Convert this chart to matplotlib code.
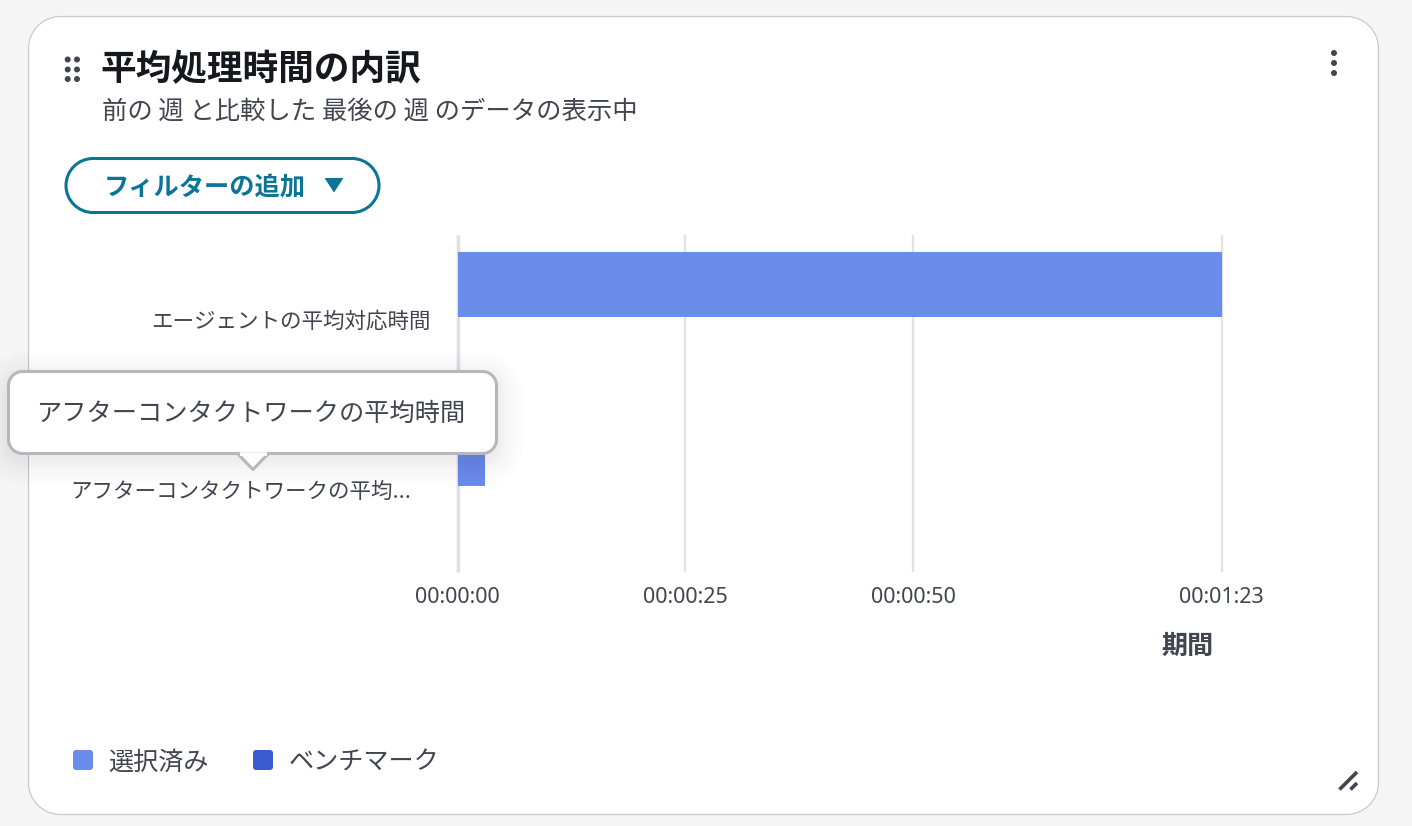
import matplotlib
matplotlib.use("Agg")
import matplotlib.pyplot as plt
from matplotlib.patches import PathPatch, Circle, Polygon
from matplotlib.path import Path
from matplotlib.transforms import ScaledTranslation

JP = ['Noto Sans CJK JP', 'DejaVu Sans']
plt.rcParams['font.family'] = JP

categories = ['エージェントの平均対応時間', 'アフターコンタクトワークの平均...']
selected_seconds = [83.9, 3.0]
tick_seconds = [0, 25, 50, 83.85]
tick_labels = ['00:00:00', '00:00:25', '00:00:50', '00:01:23']
x_title = '期間'
legend_names = ['選択済み', 'ベンチマーク']
legend_colors = ['#6A8CEB', '#3A5BD0']
title = '平均処理時間の内訳'
subtitle = '前の 週 と比較した 最後の 週 のデータの表示中'
button_text = 'フィルターの追加'
tooltip_text = 'アフターコンタクトワークの平均時間'

W, H = 1412, 826
INK = '#41454F'
TEAL = '#0B7595'
fig = plt.figure(figsize=(W / 100, H / 100), dpi=100, facecolor='#F5F5F5')

def pixel_axes(z):
    a = fig.add_axes([0, 0, 1, 1], zorder=z)
    a.set_xlim(0, W)
    a.set_ylim(H, 0)
    a.axis('off')
    a.patch.set_alpha(0)
    return a

def rbox(a, x0, y0, x1, y1, r, **kw):
    c = r * 0.4477  # control-point inset giving a circular corner
    verts = [(x0 + r, y0), (x1 - r, y0),
             (x1 - c, y0), (x1, y0 + c), (x1, y0 + r),
             (x1, y1 - r),
             (x1, y1 - c), (x1 - c, y1), (x1 - r, y1),
             (x0 + r, y1),
             (x0 + c, y1), (x0, y1 - c), (x0, y1 - r),
             (x0, y0 + r),
             (x0, y0 + c), (x0 + c, y0), (x0 + r, y0),
             (x0 + r, y0)]
    codes = [Path.MOVETO, Path.LINETO,
             Path.CURVE4, Path.CURVE4, Path.CURVE4,
             Path.LINETO,
             Path.CURVE4, Path.CURVE4, Path.CURVE4,
             Path.LINETO,
             Path.CURVE4, Path.CURVE4, Path.CURVE4,
             Path.LINETO,
             Path.CURVE4, Path.CURVE4, Path.CURVE4,
             Path.CLOSEPOLY]
    p = PathPatch(Path(verts, codes), **kw)
    a.add_patch(p)
    return p

bg = pixel_axes(0)
rbox(bg, 28.5, 16.5, 1378.5, 814.5, 32, fc='white', ec='#C9C9D1', lw=0.9)

# chart: each band has a slot for the selected bar above the slot for the benchmark
ax = fig.add_axes([457.5 / W, 1 - 572 / H, (1221.8 - 457.5) / W, (572 - 235) / H], zorder=1)
ax.patch.set_alpha(0)
ypos = [0.5, 1.5]
bar_shift = -0.206
ax.barh([y + bar_shift for y in ypos], selected_seconds, height=0.386, color=legend_colors[0], zorder=3)
ax.set_xlim(0, tick_seconds[-1])
ax.set_ylim(2, 0)
ax.set_xticks(tick_seconds)
ax.set_xticklabels(tick_labels, fontsize=15.5, color=INK, family=['Noto Sans'])
ax.set_yticks(ypos)
ax.set_yticklabels(categories, fontsize=15.5, color=INK)
ax.tick_params(axis='x', length=0, pad=11)
ax.tick_params(axis='y', length=0, pad=19.2)
ax.xaxis.grid(True, color='#E2E2E5', lw=1.7, zorder=0, clip_on=False, solid_capstyle='butt')
ax.set_axisbelow(True)
for s in ax.spines.values():
    s.set_visible(False)
ax.axvline(0, color='#DFDFE3', lw=2.4, zorder=1, clip_on=False, solid_capstyle='butt')
# the truncated label stops short of the others in the reference
lab = ax.get_yticklabels()[1]
lab.set_transform(lab.get_transform() + ScaledTranslation(-20 / 100, -1.5 / 100, fig.dpi_scale_trans))
ax.set_xlabel(x_title, fontsize=18.8, fontweight='bold', color=INK)
ax.xaxis.set_label_coords((1187.5 - 457.5) / (1221.8 - 457.5), -(646 - 572) / 337)
ax.xaxis.label.set_verticalalignment('center')

# chrome
ov = pixel_axes(2)
ov.text(100.5, 70, title, fontsize=25.7, fontweight='bold', color='#15181D', va='center')
ov.text(102, 112, subtitle, fontsize=18.25, color=INK, va='center')
for x in (67.7, 77):
    for y in (59.5, 69.5, 79):
        ov.add_patch(Circle((x, y), 3, fc=INK, ec='none'))
for y in (53, 63, 73):
    ov.add_patch(Circle((1334, y), 3, fc=INK, ec='none'))

rbox(ov, 66, 158.5, 379, 212.5, 27, fc='white', ec=TEAL, lw=2.2)
ov.text(103.5, 187.5, button_text, fontsize=18.2, fontweight='bold', color=TEAL, va='center')
ov.add_patch(Polygon([(325.5, 178.5), (342.5, 178.5), (334, 191.5)], closed=True, fc=TEAL, ec=TEAL, lw=0.8, joinstyle='round'))

# tooltip with soft shadow
for grow, alpha in [(26, 0.007), (22, 0.007), (18, 0.008), (14, 0.009), (10, 0.01), (6, 0.011), (3, 0.011)]:
    rbox(ov, 8 - grow, 372 + 6 - grow, 497 + grow, 453 + 6 + grow, 14 + grow, fc='black', ec='none', alpha=alpha)
rbox(ov, 8.5, 371.5, 496.5, 453.5, 14, fc='white', ec='#B6B6BC', lw=2.2)
ov.add_patch(Polygon([(237, 453), (253, 469.5), (269, 453)], closed=False, fc='white', ec='#B6B6BC', lw=2.2, joinstyle='round'))
ov.plot([239.5, 266.5], [453.5, 453.5], color='white', lw=2.6, solid_capstyle='butt')
ov.text(252, 414, tooltip_text, fontsize=18.15, color=INK, va='center', ha='center')

# legend
for x_box, x_txt, name, col in zip((73, 253), (108, 288.5), legend_names, legend_colors):
    rbox(ov, x_box, 750, x_box + 20, 770, 3, fc=col, ec='none')
    ov.text(x_txt, 762.5, name, fontsize=18.1, color=INK, va='center')

# resize grip
ov.plot([1339.5, 1357], [789.5, 772], color=INK, lw=2.6, solid_capstyle='butt')
ov.plot([1350.5, 1357], [789.5, 783], color=INK, lw=2.6, solid_capstyle='butt')

fig.savefig('out.png', dpi=100, facecolor=fig.get_facecolor())
